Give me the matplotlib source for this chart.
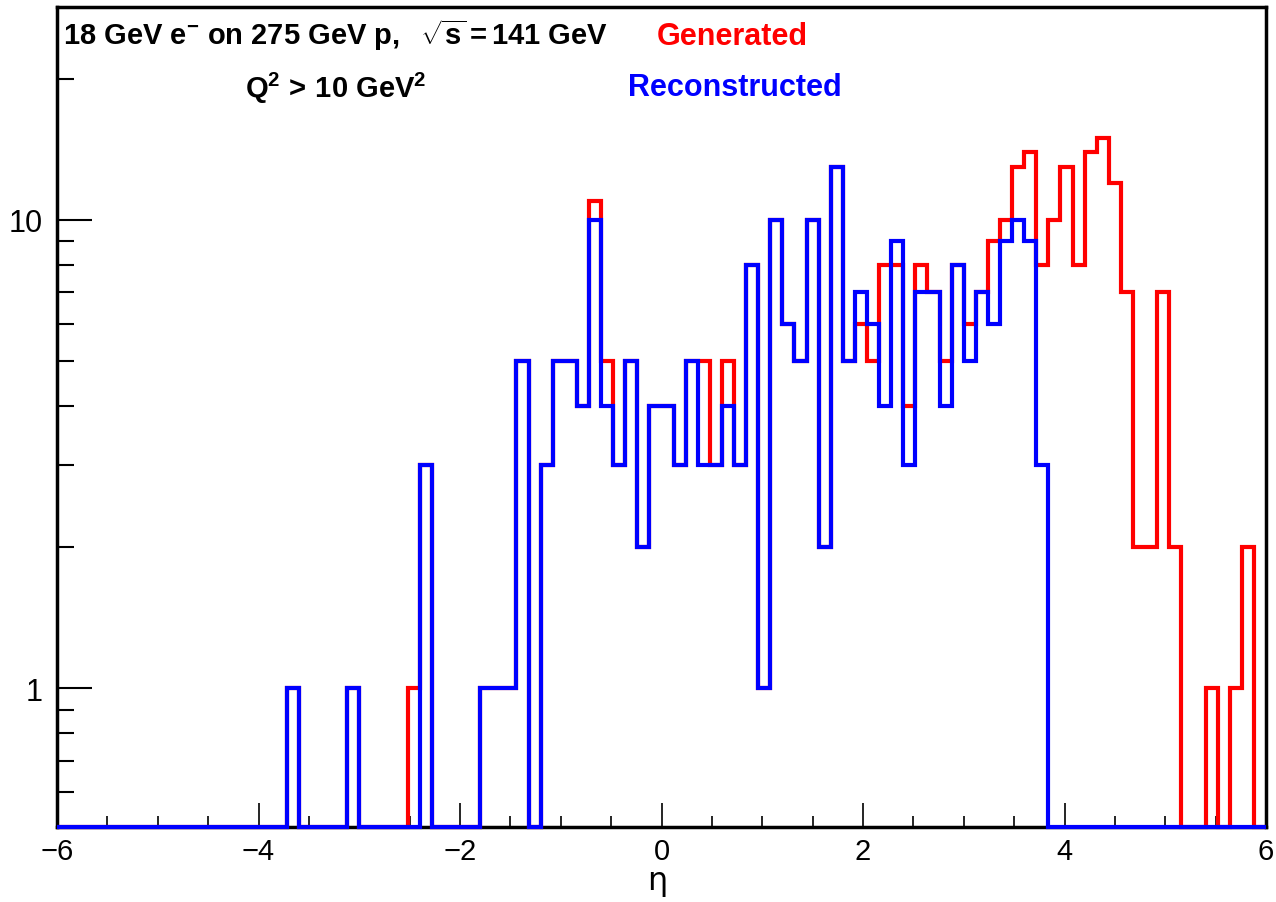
import numpy as np
import matplotlib
matplotlib.use("Agg")
import matplotlib.pyplot as plt
from matplotlib.ticker import FixedLocator, FixedFormatter, NullFormatter, MultipleLocator

# 100 bins of eta between -6 and 6
edges = np.linspace(-6, 6, 101)

generated = [
    0, 0, 0, 0, 0, 0, 0, 0, 0, 0,
    0, 0, 0, 0, 0, 0, 0, 0, 0, 1,
    0, 0, 0, 0, 1, 0, 0, 0, 0, 1,
    3, 0, 0, 0, 0, 1, 1, 1, 5, 0,
    3, 5, 5, 4, 11, 5, 3, 5, 2, 4,
    4, 3, 5, 5, 3, 5, 3, 8, 1, 10,
    6, 5, 10, 2, 13, 5, 6, 5, 8, 8,
    4, 8, 7, 5, 8, 6, 7, 9, 10, 13,
    14, 8, 10, 13, 8, 14, 15, 12, 7, 2,
    2, 7, 2, 0, 0, 1, 0, 1, 2, 0,
]

reconstructed = [
    0, 0, 0, 0, 0, 0, 0, 0, 0, 0,
    0, 0, 0, 0, 0, 0, 0, 0, 0, 1,
    0, 0, 0, 0, 1, 0, 0, 0, 0, 0,
    3, 0, 0, 0, 0, 1, 1, 1, 5, 0,
    3, 5, 5, 4, 10, 4, 3, 5, 2, 4,
    4, 3, 5, 3, 3, 4, 3, 8, 1, 10,
    6, 5, 10, 2, 13, 5, 7, 6, 4, 9,
    3, 7, 7, 4, 8, 5, 7, 6, 9, 10,
    9, 3, 0, 0, 0, 0, 0, 0, 0, 0,
    0, 0, 0, 0, 0, 0, 0, 0, 0, 0,
]

ymin, ymax = 0.505, 28.5

plt.rcParams["font.family"] = ["Liberation Sans", "DejaVu Sans"]
plt.rcParams["mathtext.fontset"] = "custom"
plt.rcParams["mathtext.rm"] = "Liberation Sans"
plt.rcParams["mathtext.bf"] = "Liberation Sans:bold"
plt.rcParams["mathtext.it"] = "Liberation Sans:italic"

fig = plt.figure(figsize=(12.76, 9.03), dpi=100)
ax = fig.add_axes([57 / 1276, 75 / 903, 1209 / 1276, 820 / 903])
ax.set_yscale("log")

# empty bins are drawn on the lower frame, as ROOT does
gen = np.clip(np.array(generated, dtype=float), ymin, None)
rec = np.clip(np.array(reconstructed, dtype=float), ymin, None)
ax.stairs(gen, edges, baseline=None, color="#ff0000", lw=3, clip_on=False, zorder=3)
ax.stairs(rec, edges, baseline=None, color="#0000ff", lw=3, clip_on=False, zorder=4)

ax.set_xlim(-6, 6)
ax.set_ylim(ymin, ymax)

for s in ax.spines.values():
    s.set_linewidth(2.5)
    s.set_zorder(2)

ax.xaxis.set_major_locator(MultipleLocator(2))
ax.xaxis.set_minor_locator(MultipleLocator(0.5))
ax.tick_params(axis="x", which="major", direction="in", length=17, width=1.2,
               labelsize=21, pad=7, top=False)
ax.tick_params(axis="x", which="minor", direction="in", length=8, width=1.2, top=False)

ax.yaxis.set_major_locator(FixedLocator([1, 10]))
ax.yaxis.set_major_formatter(FixedFormatter(["1", "10"]))
ax.yaxis.set_minor_locator(FixedLocator([0.6, 0.7, 0.8, 0.9, 2, 3, 4, 5, 6, 7, 8, 9, 20]))
ax.yaxis.set_minor_formatter(NullFormatter())
ax.tick_params(axis="y", which="major", direction="in", length=25, width=1.5,
               labelsize=22, pad=10, right=False)
ax.tick_params(axis="y", which="minor", direction="in", length=12, width=1.5, right=False)

fig.text(657 / 1276, 1 - 882 / 903, "η", fontsize=23, ha="center", va="center",
         family=["DejaVu Sans"])

fig.text(63 / 1276, 1 - 35 / 903,
         r"$\mathbf{18\ GeV\ e^{-}\ on\ 275\ GeV\ p,\ \ \sqrt{s}{=}141\ GeV}$",
         fontsize=21, va="center", ha="left", color="black")
fig.text(245 / 1276, 1 - 88 / 903, r"$\mathbf{Q^{2}\,>\,10\ GeV^{2}}$",
         fontsize=21, va="center", ha="left", color="black")
fig.text(657 / 1276, 1 - 37 / 903, "Generated", fontsize=22,
         fontweight="bold", va="center", ha="left", color="#ff0000")
fig.text(628 / 1276, 1 - 88 / 903, "Reconstructed", fontsize=22,
         fontweight="bold", va="center", ha="left", color="#0000ff")

fig.savefig("out.png", dpi=100)
